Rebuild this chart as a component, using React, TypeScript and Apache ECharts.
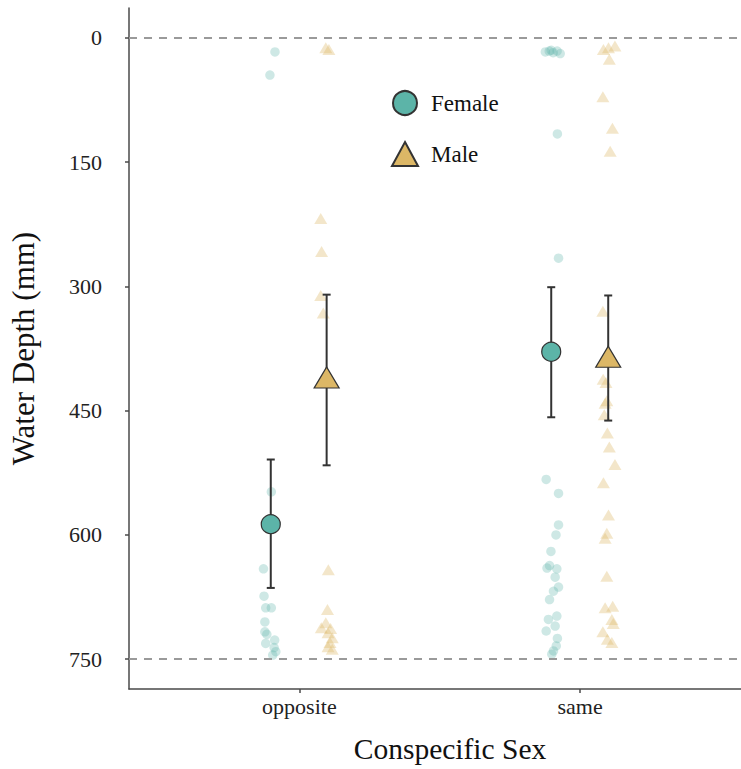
import React, { useEffect, useRef } from "react";
import * as echarts from "echarts";

const FONT = "Liberation Serif";

const categories = ["opposite", "same"];
const categoryPositions = [1, 2];
const yTicks = [0, 150, 300, 450, 600, 750];
const referenceDepths = [0, 750];

// individual observations, jittered within each group: [x position, depth in mm]
const femaleObs: [number, number][] = [
  [0.913, 17], [0.895, 45], [0.9, 548], [0.872, 641], [0.874, 674],
  [0.88, 688], [0.9, 688], [0.877, 705], [0.877, 717], [0.884, 720],
  [0.88, 731], [0.912, 727], [0.91, 736], [0.916, 741], [0.905, 745],
  [1.876, 17], [1.89, 16], [1.904, 18], [1.918, 16], [1.929, 19], [1.897, 15],
  [1.919, 116], [1.923, 266], [1.879, 533], [1.923, 550], [1.923, 588],
  [1.914, 600], [1.896, 620], [1.891, 637], [1.882, 640], [1.917, 641],
  [1.911, 651], [1.923, 663], [1.905, 668], [1.891, 678], [1.917, 698],
  [1.887, 702], [1.911, 710], [1.879, 716], [1.919, 725], [1.915, 734],
  [1.905, 740], [1.899, 744],
];

const maleObs: [number, number][] = [
  [1.105, 14], [1.094, 12], [1.076, 218], [1.079, 258], [1.076, 311],
  [1.085, 332], [1.103, 642], [1.1, 690], [1.094, 706], [1.078, 712],
  [1.111, 713], [1.102, 718], [1.117, 724], [1.109, 730], [1.102, 735],
  [1.117, 738],
  [2.101, 12], [2.124, 10], [2.083, 14], [2.104, 26], [2.081, 71],
  [2.115, 109], [2.107, 137], [2.081, 330], [2.082, 412], [2.092, 416],
  [2.095, 438], [2.089, 441], [2.086, 455], [2.097, 477], [2.104, 494],
  [2.124, 515], [2.083, 537], [2.101, 576], [2.095, 598], [2.089, 604],
  [2.095, 650], [2.089, 688], [2.116, 686], [2.113, 702], [2.118, 707],
  [2.081, 717], [2.097, 726], [2.113, 730],
];

// group means and error bar limits (opposite, same)
const femaleMeanX = [0.898, 1.897];
const femaleMean = [587, 379];
const femaleLow = [509, 301];
const femaleHigh = [664, 458];

const maleMeanX = [1.097, 2.1];
const maleMean = [410, 385];
const maleLow = [310, 311];
const maleHigh = [516, 462];

const TEAL = "#5cb4a8";
const TAN = "#dcb766";
const INK = "#333333";

export default function App() {
  const ref = useRef<HTMLDivElement>(null);

  useEffect(() => {
    if (!ref.current) return;
    const chart = echarts.init(ref.current, undefined, { renderer: "svg" });

    const femaleMeans = femaleMeanX.map((x, i) => [x, femaleMean[i]]);
    const maleMeans = maleMeanX.map((x, i) => [x, maleMean[i]]);
    const errorBars = [
      ...femaleMeanX.map((x, i) => [x, femaleLow[i], femaleHigh[i]]),
      ...maleMeanX.map((x, i) => [x, maleLow[i], maleHigh[i]]),
    ];

    const axisLineStyle = { color: "#4a4a4a", width: 1.5 };

    chart.setOption({
      animation: false,
      backgroundColor: "#ffffff",
      textStyle: { fontFamily: FONT },
      grid: { left: 128, right: 0, top: 8, bottom: 79, containLabel: false },
      legend: {
        data: [
          { name: "Female", icon: "circle" },
          { name: "Male", icon: "triangle" },
        ],
        orient: "vertical",
        left: 391,
        top: 90,
        padding: 0,
        itemWidth: 26,
        itemHeight: 24,
        itemGap: 25,
        selectedMode: false,
        textStyle: { fontFamily: FONT, fontSize: 23, color: "#111", padding: [0, 0, 0, 8] },
      },
      xAxis: {
        type: "value",
        min: 0.393,
        max: 2.573,
        name: "Conspecific Sex",
        nameLocation: "middle",
        nameGap: 45,
        nameTextStyle: { fontFamily: FONT, fontSize: 29.5, color: "#111", padding: [0, 0, 0, 30] },
        axisLine: { show: true, onZero: false, lineStyle: axisLineStyle },
        axisTick: { show: true, length: 4, customValues: categoryPositions, lineStyle: axisLineStyle },
        axisLabel: {
          customValues: categoryPositions,
          fontFamily: FONT,
          fontSize: 22,
          color: "#222",
          margin: 6,
          formatter: (v: number) => categories[Math.round(v) - 1] ?? "",
        },
        splitLine: { show: false },
      },
      yAxis: {
        type: "value",
        inverse: true,
        min: -36,
        max: 786,
        name: "Water Depth (mm)",
        nameLocation: "middle",
        nameGap: 90,
        nameTextStyle: { fontFamily: FONT, fontSize: 31, color: "#111" },
        axisLine: { show: true, onZero: false, lineStyle: axisLineStyle },
        axisTick: { show: true, length: 4, customValues: yTicks, lineStyle: axisLineStyle },
        axisLabel: {
          customValues: yTicks,
          fontFamily: FONT,
          fontSize: 22,
          color: "#222",
          margin: 27,
        },
        splitLine: { show: false },
      },
      series: [
        {
          name: "Female observations",
          type: "scatter",
          symbol: "circle",
          symbolSize: 9.5,
          data: femaleObs,
          itemStyle: { color: TEAL, opacity: 0.3 },
          z: 2,
          silent: true,
          markLine: {
            silent: true,
            symbol: "none",
            label: { show: false },
            lineStyle: { color: "#9a9a9a", type: [8, 7], width: 2 },
            data: referenceDepths.map((d) => ({ yAxis: d })),
          },
        },
        {
          name: "Male observations",
          type: "scatter",
          symbol: "triangle",
          symbolSize: [13, 11],
          data: maleObs,
          itemStyle: { color: TAN, opacity: 0.35 },
          z: 2,
          silent: true,
        },
        {
          name: "Error bars",
          type: "custom",
          data: errorBars,
          encode: { x: 0, y: [1, 2] },
          z: 3,
          silent: true,
          renderItem: (_params: any, api: any) => {
            const x = api.value(0);
            const top = api.coord([x, api.value(1)]);
            const bottom = api.coord([x, api.value(2)]);
            const cap = 4;
            const style = { stroke: INK, lineWidth: 2 };
            return {
              type: "group",
              children: [
                { type: "line", shape: { x1: top[0], y1: top[1], x2: bottom[0], y2: bottom[1] }, style },
                { type: "line", shape: { x1: top[0] - cap, y1: top[1], x2: top[0] + cap, y2: top[1] }, style },
                { type: "line", shape: { x1: bottom[0] - cap, y1: bottom[1], x2: bottom[0] + cap, y2: bottom[1] }, style },
              ],
            };
          },
        },
        {
          name: "Female",
          type: "scatter",
          symbol: "circle",
          symbolSize: 19,
          data: femaleMeans,
          itemStyle: { color: TEAL, borderColor: INK, borderWidth: 1.2, opacity: 1 },
          z: 4,
        },
        {
          name: "Male",
          type: "scatter",
          symbol: "triangle",
          symbolSize: [25, 21],
          data: maleMeans,
          itemStyle: { color: TAN, borderColor: INK, borderWidth: 1.2, opacity: 1 },
          z: 4,
        },
      ],
    });

    return () => chart.dispose();
  }, []);

  return (
    <div
      ref={ref}
      style={{ position: "fixed", left: 0, top: 0, width: 741, height: 769, background: "#fff" }}
    />
  );
}
